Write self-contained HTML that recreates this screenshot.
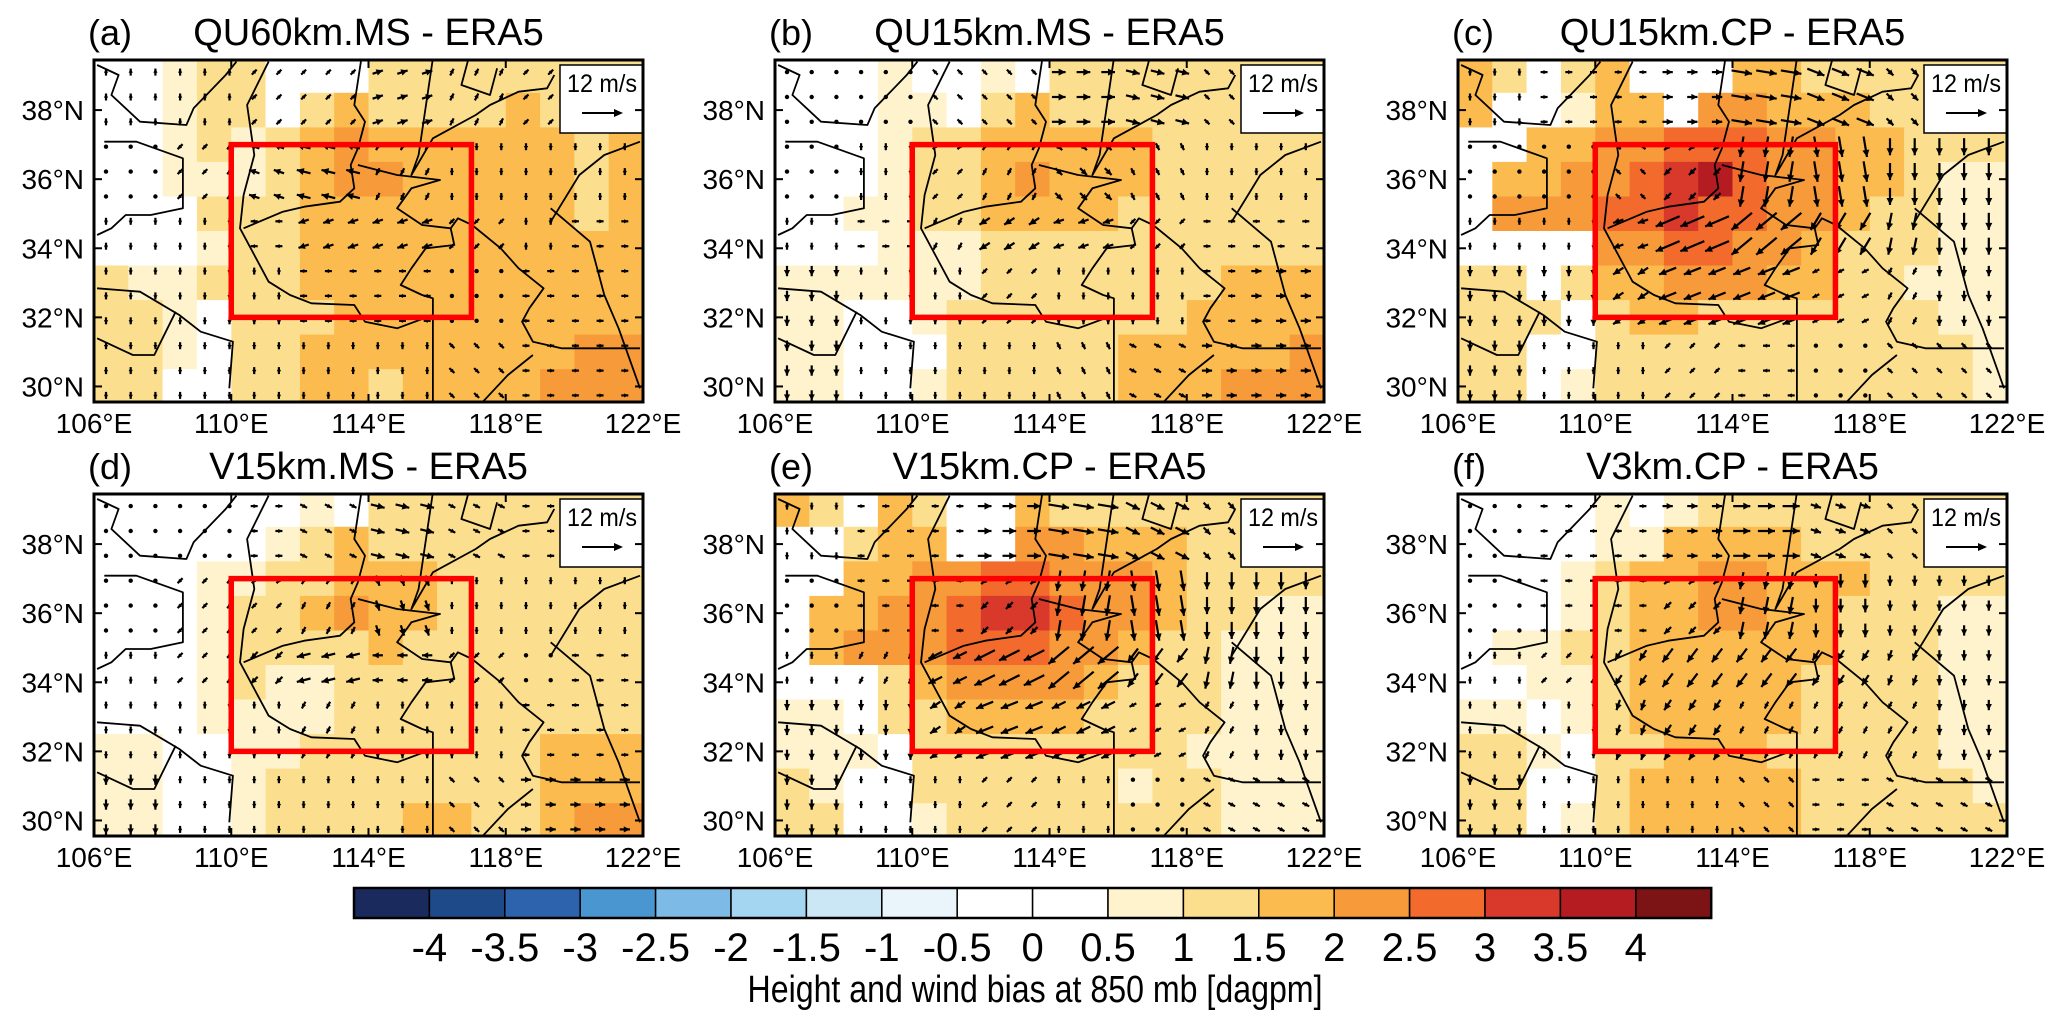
<!DOCTYPE html>
<html><head><meta charset="utf-8">
<style>
html,body{margin:0;padding:0;background:#fff;}
svg{display:block;font-family:"Liberation Sans",Arial,sans-serif;}
</style></head>
<body>
<svg id="fig" width="2067" height="1029" viewBox="0 0 2067 1029" xmlns="http://www.w3.org/2000/svg"></svg>
<script>
// ---- data ----
const panelTitles = ["QU60km.MS - ERA5","QU15km.MS - ERA5","QU15km.CP - ERA5","V15km.MS - ERA5","V15km.CP - ERA5","V3km.CP - ERA5"];
const panelLetters = ["(a)","(b)","(c)","(d)","(e)","(f)"];
const lonTicks = [106,110,114,118,122];
const latTicks = [30,32,34,36,38];
const cbarLabels = ["-4","-3.5","-3","-2.5","-2","-1.5","-1","-0.5","0","0.5","1","1.5","2","2.5","3","3.5","4"];
const cbarColors = ['#1b2a5c','#1f4a8a','#2c63ac','#4a96d1','#7dbbe6','#a5d6f1','#cbe7f5','#eaf4fb','#ffffff','#ffffff','#fef3cc','#fcdf8e','#fbbb4f','#f79a39','#f26a2c','#d8392b','#b51c22','#7c1315'];
// bias grids: rows 39.5->29.5 (1 deg), cols 106->122 (1 deg)
const biasA = [
[0.3,0.3,0.7,1.2,1.2,0.3,0.3,0.3,1.2,1.2,1.2,1.2,1.2,1.2,1.2,1.2],
[0.3,0.3,0.7,1.2,1.2,0.3,1.2,1.7,1.2,1.2,1.2,1.2,1.7,1.2,1.2,1.2],
[0.3,0.3,0.7,1.2,0.8,1.2,1.7,2.2,1.7,1.7,1.7,1.7,1.7,1.7,1.2,1.7],
[0.3,0.3,0.7,0.7,0.7,1.2,1.7,2.2,2.2,1.7,1.7,1.7,1.7,1.7,1.2,1.7],
[0.3,0.3,0.3,1.2,1.2,1.2,1.7,1.7,1.7,1.7,1.7,1.7,1.7,1.7,1.2,1.7],
[0.3,0.3,0.3,0.7,1.2,1.2,1.7,1.7,1.7,1.7,1.7,1.7,1.7,1.7,1.7,1.7],
[1.2,0.7,0.7,1.2,1.2,1.2,1.7,1.7,1.7,1.7,1.7,1.7,1.7,1.7,1.7,1.7],
[1.2,1.2,0.7,0.3,1.2,1.2,1.2,1.7,1.7,1.7,1.7,1.7,1.7,1.7,1.7,1.7],
[1.2,1.2,0.7,0.3,1.2,1.2,1.7,1.7,1.7,1.7,1.7,1.7,1.7,1.7,2.2,2.2],
[1.2,1.2,0.3,0.3,1.2,1.2,1.7,1.7,1.2,1.7,1.7,1.7,1.7,2.2,2.2,2.2]];
const biasB = [
[0.3,0.3,0.3,0.7,0.3,0.3,0.7,0.3,1.2,1.2,1.2,1.2,1.2,1.2,1.2,1.2],
[0.3,0.3,0.3,0.7,0.7,0.3,1.2,1.7,1.2,1.2,1.2,1.2,1.2,1.2,1.2,1.2],
[0.3,0.3,0.3,0.7,1.2,1.2,1.7,1.7,1.7,1.7,1.7,1.2,1.2,1.2,1.2,1.2],
[0.3,0.3,0.3,0.7,1.2,1.2,1.7,2.2,1.7,1.7,1.7,1.2,1.2,1.2,1.2,1.2],
[0.3,0.3,0.7,0.7,1.2,1.2,1.7,1.7,1.7,1.7,1.2,1.2,1.2,1.2,1.2,1.2],
[0.3,0.3,0.3,0.7,0.7,0.7,1.2,1.2,1.2,1.2,1.2,1.2,1.2,1.2,1.2,1.2],
[0.7,0.7,0.7,0.7,0.7,0.7,1.2,1.2,1.2,1.2,1.2,1.2,1.2,1.7,1.7,1.7],
[0.7,0.7,0.3,0.3,0.7,1.2,1.2,1.2,1.2,1.2,1.2,1.2,1.7,1.7,1.7,1.7],
[0.7,0.7,0.3,0.3,0.3,1.2,1.2,1.2,1.2,1.2,1.7,1.7,1.7,1.7,1.7,2.2],
[0.7,0.7,0.3,0.3,0.7,1.2,1.2,1.2,1.2,1.2,1.7,1.7,1.7,2.2,2.2,2.2]];
const biasC = [
[1.7,1.2,0.3,1.2,1.7,0.3,0.3,0.3,1.7,1.7,1.2,1.2,1.2,1.2,1.2,1.2],
[1.7,0.3,0.3,0.7,1.7,1.7,0.3,2.2,2.2,1.7,1.7,1.7,1.2,1.2,1.2,1.2],
[0.3,0.3,1.7,1.7,2.2,2.2,2.7,2.7,2.7,2.2,2.2,1.7,1.7,1.2,1.2,1.2],
[0.3,1.7,1.7,2.2,2.2,2.7,3.2,3.7,2.7,2.2,2.2,1.7,1.7,1.2,0.7,0.7],
[0.3,2.2,2.2,2.2,2.7,2.7,3.2,2.7,2.7,2.2,2.2,1.7,1.2,1.2,0.7,0.7],
[0.3,0.3,0.3,0.3,2.2,2.2,2.7,2.7,2.2,2.2,1.7,1.2,1.2,1.2,0.7,0.7],
[1.2,1.2,0.3,1.2,1.7,1.7,2.2,2.2,2.2,1.7,1.7,1.2,1.2,0.7,0.7,0.7],
[1.2,1.2,1.2,0.3,1.2,1.7,1.7,1.2,1.2,1.2,1.2,1.2,1.2,1.2,0.7,0.7],
[1.2,1.2,0.3,0.3,1.2,1.2,1.2,1.2,1.2,1.2,1.2,1.2,1.2,1.2,1.2,0.7],
[1.2,1.2,0.3,0.7,1.2,1.2,1.2,1.2,1.2,1.2,1.2,1.2,1.2,1.2,1.2,0.7]];
const biasD = [
[0.3,0.3,0.3,0.3,0.3,0.3,0.7,0.3,1.2,1.2,1.2,1.2,1.2,1.2,1.2,1.2],
[0.3,0.3,0.3,0.3,0.3,0.7,1.2,1.7,1.2,1.2,1.2,1.2,1.2,1.2,1.2,1.2],
[0.3,0.3,0.3,0.7,0.7,1.2,1.2,1.7,1.7,1.7,1.2,1.2,1.2,1.2,1.2,1.2],
[0.3,0.3,0.3,0.7,1.2,1.2,1.7,2.2,1.7,1.7,1.2,1.2,1.2,1.2,1.2,1.2],
[0.3,0.3,0.3,0.7,1.2,1.2,1.2,1.2,1.7,1.2,1.2,1.2,1.2,1.2,1.2,1.2],
[0.3,0.3,0.3,0.7,1.2,0.7,0.7,1.2,1.2,1.2,1.2,1.2,1.2,1.2,1.2,1.2],
[0.3,0.3,0.3,0.7,0.7,0.7,0.7,1.2,1.2,1.2,1.2,1.2,1.2,1.2,1.2,1.2],
[0.7,0.7,0.3,0.3,0.7,0.7,1.2,1.2,1.2,1.2,1.2,1.2,1.2,1.7,1.7,1.7],
[0.7,0.7,0.3,0.3,0.7,1.2,1.2,1.2,1.2,1.2,1.2,1.2,1.2,1.7,1.7,1.7],
[0.7,0.7,0.3,0.3,0.7,1.2,1.2,1.2,1.2,1.7,1.7,1.2,1.2,1.7,2.2,2.2]];
const biasE = [
[1.7,1.2,0.3,1.7,1.2,0.3,0.3,1.7,1.2,1.2,1.2,1.2,1.2,1.2,1.2,1.2],
[0.3,0.3,1.2,1.7,1.7,0.3,0.3,2.2,2.2,1.7,1.7,1.7,1.2,1.2,1.2,1.2],
[0.3,0.3,1.7,1.7,2.2,2.2,2.7,2.7,2.2,2.2,2.2,1.7,1.2,1.2,1.2,1.2],
[0.3,1.7,1.7,2.2,2.2,2.7,3.2,3.2,2.7,2.2,2.2,1.7,1.2,1.2,0.7,0.7],
[0.3,1.7,2.2,2.2,2.2,2.7,2.7,2.7,2.2,2.2,1.7,1.2,1.2,0.7,0.7,0.7],
[0.3,0.3,0.3,1.2,1.7,2.2,2.2,2.2,2.2,1.7,1.2,1.2,1.2,0.7,0.7,0.7],
[0.7,0.7,0.3,1.2,1.2,1.7,1.7,1.7,1.7,1.2,1.2,1.2,1.2,0.7,0.7,0.7],
[0.7,0.7,0.7,0.3,1.2,1.2,1.2,1.2,1.2,1.2,1.2,1.2,0.7,0.7,0.7,0.7],
[1.2,0.7,0.3,0.3,1.2,1.2,1.2,1.2,1.2,1.2,0.7,1.2,1.2,0.7,0.7,0.7],
[1.2,1.2,0.3,0.3,0.7,1.2,1.2,1.2,1.2,1.2,1.2,1.2,1.2,0.7,0.7,0.7]];
const biasF = [
[0.3,0.3,0.3,0.3,0.7,0.3,0.7,1.2,1.2,1.2,1.2,1.2,1.2,1.2,1.2,1.2],
[0.3,0.3,0.3,0.3,0.7,0.7,1.7,1.7,1.7,1.7,1.2,1.2,1.2,1.2,1.2,1.2],
[0.3,0.3,0.3,0.7,1.2,1.7,1.7,2.2,2.2,1.7,1.7,1.7,1.2,1.2,1.2,1.2],
[0.3,0.3,0.3,0.7,1.2,1.7,1.7,2.2,2.2,1.7,1.7,1.2,1.2,1.2,0.7,0.7],
[0.3,0.7,0.7,1.2,1.2,1.7,1.7,1.7,1.7,1.7,1.7,1.2,1.2,1.2,0.7,0.7],
[0.3,0.3,0.7,0.7,1.2,1.7,1.7,1.7,1.7,1.7,1.2,1.2,1.2,1.2,0.7,0.7],
[0.7,0.7,0.3,0.7,1.2,1.7,1.7,1.7,1.7,1.7,1.2,1.2,1.2,1.2,0.7,0.7],
[1.2,1.2,0.7,0.3,1.2,1.2,1.7,1.7,1.7,1.2,1.2,1.2,1.2,1.2,0.7,0.7],
[1.2,1.2,0.3,0.3,1.2,1.7,1.7,1.7,1.7,1.7,1.2,1.2,1.2,1.2,1.2,0.7],
[1.2,1.2,0.3,0.7,1.2,1.7,1.7,1.7,1.7,1.7,1.2,1.2,1.2,1.2,1.2,1.2]];
// wind bias (m/s), 2-deg blocks: rows 39.5->29.5, cols 106->122
const uA = [[0,0,1,1,3,1,1,0],[0,-1,-3,-4,-1,0,0,0],[0,0,-1,-3,-3,-1,0,1],[0,0,0,-1,-1,0,1,2],[0,0,0,0,0,1,2,2]];
const vA = [[1,1,1,1,1,2,1,0],[0,-1,1,1,-2,-1,-1,-1],[-1,-1,0,-1,-1,-1,-1,0],[-2,-2,-1,0,0,0,0,0],[-2,-2,-2,-1,-1,-1,0,0]];
const uB = [[0,0,-1,1,4,4,1,0],[0,0,-1,-1,2,1,0,0],[0,1,-1,-3,-3,-1,1,2],[0,0,0,-1,0,0,2,3],[0,0,0,0,1,2,3,3]];
const vB = [[0,0,1,-1,0,-1,-1,0],[0,-1,-1,-2,-2,-2,-1,-1],[-1,0,-2,-2,-1,-1,0,0],[-3,-2,-2,-1,-1,-1,0,0],[-3,-2,-2,-2,-2,-1,0,0]];
const uC = [[0,1,2,3,6,5,2,0],[0,0,-1,-2,-1,1,0,0],[0,0,-3,-7,-6,-3,-1,0],[0,0,-3,-5,-5,-2,-1,0],[0,0,0,-1,-1,0,1,1]];
const vC = [[-1,0,0,0,-1,-2,-2,-2],[0,0,1,-2,-6,-6,-5,-5],[-1,-2,-1,-3,-5,-5,-5,-5],[-3,-3,-2,-2,-2,-1,-2,-3],[-3,-2,-2,-1,0,0,-1,-1]];
const uD = [[0,0,1,2,4,2,1,0],[0,-1,-1,-1,1,0,0,0],[0,-1,-2,-4,-3,-1,0,1],[0,0,0,-1,0,0,1,2],[0,0,0,0,0,1,3,3]];
const vD = [[0,0,0,-1,-1,-1,0,0],[0,-1,-1,-2,-3,-2,-1,-1],[-1,-1,-2,-1,0,-1,0,0],[-2,-2,-2,-2,-2,-1,0,0],[-3,-2,-2,-2,-2,-1,0,0]];
const uE = [[0,1,2,4,6,4,2,0],[0,-1,-2,-2,-1,1,0,0],[0,-1,-4,-6,-6,-3,-1,0],[0,0,-3,-5,-4,-2,-1,0],[0,0,0,-1,0,0,2,2]];
const vE = [[-1,0,0,0,-1,-2,-2,-2],[0,0,0,-2,-6,-6,-5,-5],[-1,-2,-2,-3,-5,-4,-5,-5],[-3,-3,-2,-2,-2,-1,-2,-3],[-3,-2,-2,-1,-1,0,-1,-1]];
const uF = [[0,1,1,3,5,3,1,0],[0,-1,-2,-2,-1,0,0,0],[0,-1,-2,-3,-3,-2,-1,0],[0,0,-1,-2,-1,-1,-1,0],[0,0,0,0,1,1,2,2]];
const vF = [[0,0,0,0,0,-1,-1,-1],[0,0,0,-2,-5,-4,-3,-3],[-1,-1,-3,-4,-4,-3,-3,-3],[-2,-2,-3,-3,-2,-2,-2,-3],[-3,-2,-2,-1,-1,0,-1,-1]];
const regionBox = [110,117,32,37]; // lonW, lonE, latS, latN
const refSpeed = 12;

// ---- layout ----
const NS = "http://www.w3.org/2000/svg";
const svg = document.getElementById('fig');
const lon0=106, lon1=122, lat0=29.55, lat1=39.45;
const colX=[94,775,1458], rowY=[60,494], mapW=549, mapH=342;
const biasGrids=[biasA,biasB,biasC,biasD,biasE,biasF];
const uGrids=[uA,uB,uC,uD,uE,uF], vGrids=[vA,vB,vC,vD,vE,vF];
const panelNames=['a','b','c','d','e','f'];
// rough province/coast boundary trace (reference-zoom pixel coords)
const borderTrace=[
[[500,20],[440,150],[460,300],[430,420],[420,520],[460,600],[500,680],[560,720],[620,745],[740,750],[770,800],[860,820],[960,780]],
[[760,10],[740,150],[770,200],[750,280],[730,330],[740,400],[700,440],[600,455],[540,470],[430,520]],
[[750,330],[860,360],[980,375],[900,400],[860,460],[930,510],[1010,520],[1030,490],[1070,510],[1150,580],[1200,640],[1270,700],[1230,760],[1210,800],[1240,860],[1320,880],[1450,880],[1540,880]],
[[1010,520],[1020,570],[940,580],[900,640],[870,690],[930,720],[960,730],[960,1040]],
[[960,10],[920,300],[900,360],[960,250],[1080,180],[1120,150],[1200,110],[1280,100],[1300,60]],
[[1290,500],[1370,360],[1440,300],[1540,260]],
[[20,30],[80,60],[60,120],[140,200],[270,210],[290,160],[380,60],[410,20]],
[[40,260],[130,260],[260,310],[260,460],[170,480],[100,480],[60,520],[20,540]],
[[20,700],[140,710],[250,780],[310,830],[400,860],[390,1000]],
[[20,850],[120,900],[180,900],[240,770]],
[[1290,460],[1400,560],[1440,720],[1480,820],[1540,1000]],
[[1100,1040],[1170,960],[1240,900]],
[[1060,10],[1040,90],[1120,120],[1140,40]]
];

function el(tag,attrs,parent){const e=document.createElementNS(NS,tag);for(const k in attrs)e.setAttribute(k,attrs[k]);(parent||svg).appendChild(e);return e;}
function colorFor(v){let i=Math.floor((v+4.5)/0.5);i=Math.max(0,Math.min(17,i));return cbarColors[i];}

panelTitles.forEach((title,p)=>{
  const X0=colX[p%3], Y0=rowY[Math.floor(p/3)];
  const xs=lon=>X0+(lon-lon0)/(lon1-lon0)*mapW;
  const ys=lat=>Y0+(lat1-lat)/(lat1-lat0)*mapH;
  const g=el('g',{});
  
  
  const clipId='clip'+p;
  const cp=el('clipPath',{id:clipId},g); el('rect',{x:X0,y:Y0,width:mapW,height:mapH},cp);
  const inner=el('g',{'clip-path':'url(#'+clipId+')'},g);
  const grid=biasGrids[p];
  grid.forEach((row,r)=>row.forEach((v,c)=>{
    const latTop=39.5-r, lonL=106+c;
    const x=xs(lonL), y=ys(latTop);
    const cell=el('rect',{x:x.toFixed(1),y:y.toFixed(1),width:(xs(lonL+1)-x+0.6).toFixed(1),height:(ys(latTop-1)-y+0.6).toFixed(1),fill:colorFor(v)},inner);
    
    
  }));
  borderTrace.forEach(line=>{
    const pts=line.map(([zx,zy])=>{const rx=90+zx/2.8, ry=55+zy/3;const lon=lon0+(rx-94)/mapW*(lon1-lon0);const lat=lat1-(ry-60)/mapH*(lat1-lat0);return xs(lon).toFixed(1)+','+ys(lat).toFixed(1);}).join(' ');
    const pl=el('polyline',{points:pts,fill:'none',stroke:'#000','stroke-width':1.8,'stroke-linejoin':'round'},inner);
    
    
  });
  const U=uGrids[p], V=vGrids[p];
  const pxPerMs=41/refSpeed;
  for(let lat=39.1; lat>29.6; lat-=0.72){
    for(let lon=106.35; lon<121.9; lon+=0.72){
      const r=Math.min(4,Math.floor((39.5-lat)/2)), c=Math.min(7,Math.floor((lon-106)/2));
      const u=U[r][c], v=V[r][c];
      const cx=xs(lon), cy=ys(lat);
      let dx=u*pxPerMs, dy=-v*pxPerMs;
      let L=Math.hypot(dx,dy);
      const ag=el('g',{},inner);
      
      
      if(L<1){ el('circle',{cx:cx.toFixed(1),cy:cy.toFixed(1),r:2.2,fill:'#000'},ag); continue; }
      if(L<7){ dx=dx/L*7; dy=dy/L*7; L=7; }
      const x1=cx-dx/2,y1=cy-dy/2,x2=cx+dx/2,y2=cy+dy/2;
      el('line',{x1:x1.toFixed(1),y1:y1.toFixed(1),x2:x2.toFixed(1),y2:y2.toFixed(1),stroke:'#000','stroke-width':2.2},ag);
      const ux=dx/L,uy=dy/L,h=Math.min(7,L*0.6);
      el('polygon',{points:`${x2},${y2} ${x2-ux*h-uy*h*0.5},${y2-uy*h+ux*h*0.5} ${x2-ux*h+uy*h*0.5},${y2-uy*h-ux*h*0.5}`,fill:'#000'},ag);
    }
  }
  const rb=el('rect',{x:xs(regionBox[0]),y:ys(regionBox[3]),width:xs(regionBox[1])-xs(regionBox[0]),height:ys(regionBox[2])-ys(regionBox[3]),fill:'none',stroke:'#ff0000','stroke-width':5.5},inner);
  
  
  const lg=el('g',{},g);
  
  
  el('rect',{x:X0+mapW-83,y:Y0+5,width:83,height:68,fill:'#fff',stroke:'#000','stroke-width':1.5},lg);
  const lt=el('text',{x:X0+mapW-41,y:Y0+32,'font-size':25,'text-anchor':'middle',fill:'#000',textLength:70,lengthAdjust:'spacingAndGlyphs'},lg); lt.textContent='12 m/s';
  const ax0=X0+mapW-61, ax1=ax0+refSpeed*pxPerMs;
  el('line',{x1:ax0,y1:Y0+53,x2:ax1-4,y2:Y0+53,stroke:'#000','stroke-width':2},lg);
  el('polygon',{points:`${ax1},${Y0+53} ${ax1-9},${Y0+49} ${ax1-9},${Y0+57}`,fill:'#000'},lg);
  el('rect',{x:X0,y:Y0,width:mapW,height:mapH,fill:'none',stroke:'#000','stroke-width':3},g);
  lonTicks.forEach(lon=>{
    const x=xs(lon);
    el('line',{x1:x,y1:Y0+mapH,x2:x,y2:Y0+mapH-8,stroke:'#000','stroke-width':2},g);
    el('line',{x1:x,y1:Y0,x2:x,y2:Y0+8,stroke:'#000','stroke-width':2},g);
    const t=el('text',{x:x,y:Y0+mapH+31,'font-size':28,'text-anchor':'middle',fill:'#000'},g);
    t.textContent=lon+'°E';
    
    
  });
  latTicks.forEach(lat=>{
    const y=ys(lat);
    el('line',{x1:X0,y1:y,x2:X0+8,y2:y,stroke:'#000','stroke-width':2},g);
    el('line',{x1:X0+mapW,y1:y,x2:X0+mapW-8,y2:y,stroke:'#000','stroke-width':2},g);
    const t=el('text',{x:X0-10,y:y+10,'font-size':28,'text-anchor':'end',fill:'#000'},g);
    t.textContent=lat+'°N';
    
    
  });
  const pl=el('text',{x:X0-6,y:Y0-15,'font-size':36,fill:'#000'},g); pl.textContent=panelLetters[p];
  
  
  const tt=el('text',{x:X0+mapW/2,y:Y0-15,'font-size':38,'text-anchor':'middle',fill:'#000'},g); tt.textContent=title;
  
  
});

// colorbar
const cbX=354, cbY=888, cbW=75.4, cbH=30;
const cb=el('g',{});


cbarColors.forEach((c,i)=>{
  const r=el('rect',{x:cbX+i*cbW,y:cbY,width:cbW,height:cbH,fill:c,stroke:'#000','stroke-width':1.5},cb);
  
  
});
el('rect',{x:cbX,y:cbY,width:cbW*18,height:cbH,fill:'none',stroke:'#000','stroke-width':2.5},cb);
cbarLabels.forEach((s,i)=>{
  const t=el('text',{x:cbX+(i+1)*cbW,y:cbY+73,'font-size':40,'text-anchor':'middle',fill:'#000'},cb);
  t.textContent=s;
  
  
});
const ct=el('text',{x:1035,y:1002,'font-size':38,'text-anchor':'middle',fill:'#000',textLength:575,lengthAdjust:'spacingAndGlyphs'},cb);
ct.textContent='Height and wind bias at 850 mb [dagpm]';


</script>
</body></html>
